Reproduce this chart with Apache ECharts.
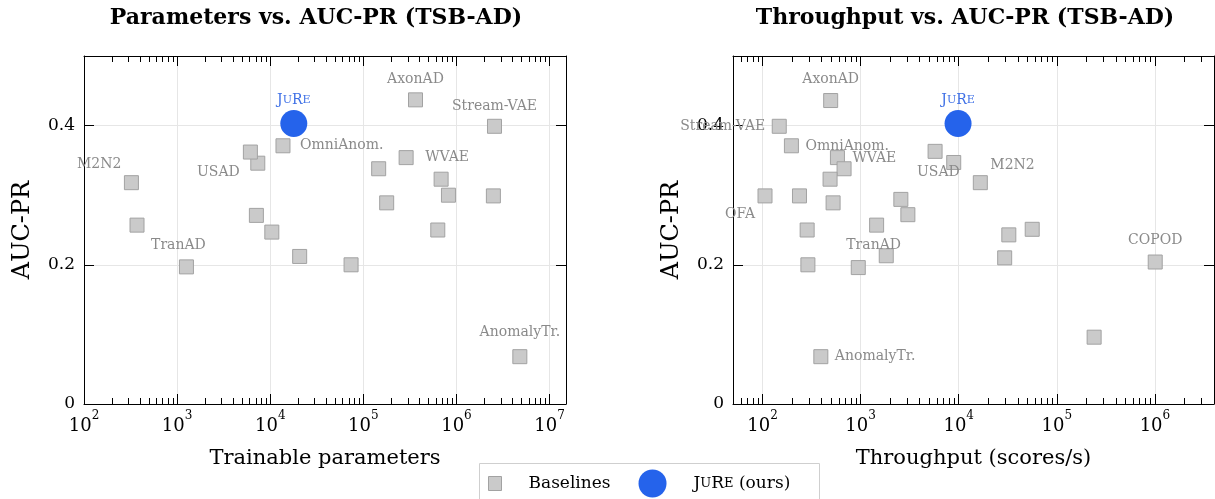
<!DOCTYPE html>
<html><head><meta charset="utf-8">
<script src="https://cdn.jsdelivr.net/npm/echarts@6/dist/echarts.min.js"></script>
<style>html,body{margin:0;padding:0;background:#fff}#c{width:1215px;height:499px}</style>
</head><body><div id="c"></div>
<script>
// ---------- Data: left panel (trainable parameters vs AUC-PR) ----------
const paramNames = ['M2N2', '', 'USAD', '', 'OmniAnom.', '', '', 'TranAD', '', 'AxonAD',
  'Stream-VAE', 'WVAE', '', '', '', '', '', '', '', 'AnomalyTr.'];
const paramCounts = [323, 371, 7350, 6120, 13700, 7100, 10400, 1259, 20700, 363000,
  2560000, 288000, 146000, 684000, 820000, 2490000, 178000, 630000, 73800, 4790000];
const paramAUC = [0.318, 0.257, 0.346, 0.362, 0.371, 0.271, 0.247, 0.197, 0.212, 0.437,
  0.399, 0.354, 0.338, 0.323, 0.300, 0.299, 0.289, 0.250, 0.200, 0.068];
const jureParams = [17900];
const jureParamAUC = [0.403];

// ---------- Data: right panel (throughput vs AUC-PR) ----------
const tputNames = ['AxonAD', 'Stream-VAE', 'OmniAnom.', 'WVAE', '', '', 'OFA', '', '', '',
  '', '', '', '', 'USAD', 'M2N2', '', '', '', 'TranAD', '', 'AnomalyTr.', '', 'COPOD', ''];
const tputValues = [495, 148, 197, 580, 678, 488, 106, 238, 524, 285,
  2570, 3030, 1455, 5740, 8890, 16600, 32400, 56100, 290, 946, 1825, 393, 29400, 1007000, 240000];
const tputAUC = [0.436, 0.399, 0.371, 0.354, 0.338, 0.323, 0.299, 0.299, 0.289, 0.250,
  0.294, 0.272, 0.257, 0.363, 0.347, 0.318, 0.243, 0.251, 0.200, 0.196, 0.213, 0.068, 0.210, 0.204, 0.096];
const jureTput = [9840];
const jureTputAUC = [0.403];

// ---------- Axis tick values ----------
const leftMajor = [1e2, 1e3, 1e4, 1e5, 1e6, 1e7];
const rightMajor = [1e2, 1e3, 1e4, 1e5, 1e6];
const leftRange = [100, 1.5e7];
const rightRange = [50, 4e6];
const yTicks = [0, 0.2, 0.4];

// ---------- Label placement (style) : [align, dx, dy] ----------
const labelPlaceLeft = {
  'M2N2': ['right', -10, -18], 'USAD': ['right', -18, 9], 'TranAD': ['center', -8, -22],
  'OmniAnom.': ['left', 17, 0], 'AxonAD': ['center', 0, -20], 'Stream-VAE': ['center', 0, -20],
  'WVAE': ['left', 19, 0], 'AnomalyTr.': ['center', 0, -24]
};
const labelPlaceRight = {
  'AxonAD': ['center', 0, -21], 'Stream-VAE': ['right', -14, 0], 'OmniAnom.': ['left', 14, 1],
  'WVAE': ['left', 15, 1], 'USAD': ['right', 6, 10], 'M2N2': ['left', 10, -17],
  'OFA': ['right', -10, 18], 'TranAD': ['left', -12, -22], 'AnomalyTr.': ['left', 14, 0],
  'COPOD': ['center', 0, -22]
};

const FONT = 'DejaVu Serif';
const GRID_COLOR = '#e6e6e6';
const BASE_STYLE = {color: '#cacaca', borderColor: '#a2a2a2', borderWidth: 1, opacity: 1};
const JURE_COLOR = '#2563eb';

function minorTicks(range) {
  const out = [];
  for (let e = Math.floor(Math.log10(range[0])); e <= Math.ceil(Math.log10(range[1])); e++) {
    for (let k = 2; k <= 9; k++) {
      const v = k * Math.pow(10, e);
      if (v > range[0] && v < range[1]) out.push(v);
    }
  }
  return out;
}

function baselineData(xs, ys, names, place) {
  return xs.map((x, i) => {
    const item = {name: names[i], value: [x, ys[i]]};
    const p = place[names[i]];
    if (p) item.label = {show: true, align: p[0], offset: [p[1], p[2]]};
    return item;
  });
}
function jureData(xs, ys) {
  return xs.map((x, i) => ({name: 'JuRe', value: [x, ys[i]]}));
}

const supRich = {
  b: {fontFamily: FONT, fontSize: 18, color: '#000', lineHeight: 25, verticalAlign: 'bottom'},
  s: {fontFamily: FONT, fontSize: 12, color: '#000', verticalAlign: 'top'}
};
const scRich = (size, color) => ({
  a: {fontFamily: FONT, fontSize: size, color: color},
  c: {fontFamily: FONT, fontSize: Math.round(size * 0.78), color: color}
});

function xAxes(gi, range, majors, name) {
  const minors = minorTicks(range);
  const common = {gridIndex: gi, type: 'log', logBase: 10, min: range[0], max: range[1],
    axisLine: {show: false}, axisTick: {show: false}, axisLabel: {show: false}, splitLine: {show: false}};
  const line = {show: true, lineStyle: {color: '#000', width: 1}};
  return [
    Object.assign({}, common, {
      position: 'bottom', axisLine: line,
      axisTick: {show: true, inside: true, length: 10, customValues: majors, lineStyle: {color: '#000'}},
      axisLabel: {show: true, customValues: majors, margin: 6,
        formatter: v => '{b|10}{s|' + Math.round(Math.log10(v)) + '}', rich: supRich},
      splitLine: {show: true, lineStyle: {color: GRID_COLOR, width: 1}},
      name: name, nameLocation: 'middle', nameGap: 44,
      nameTextStyle: {fontFamily: FONT, fontSize: 21, color: '#000'}
    }),
    Object.assign({}, common, {position: 'bottom',
      axisTick: {show: true, inside: true, length: 6, customValues: minors, lineStyle: {color: '#000'}}}),
    Object.assign({}, common, {position: 'top', axisLine: line,
      axisTick: {show: true, inside: true, length: 10, customValues: majors, lineStyle: {color: '#000'}}}),
    Object.assign({}, common, {position: 'top',
      axisTick: {show: true, inside: true, length: 6, customValues: minors, lineStyle: {color: '#000'}}})
  ];
}
function yAxes(gi) {
  const line = {show: true, lineStyle: {color: '#000', width: 1}};
  return [
    {gridIndex: gi, type: 'value', position: 'left', min: 0, max: 0.5, interval: 0.2,
      axisLine: line, axisTick: {show: true, inside: true, length: 10, lineStyle: {color: '#000'}},
      axisLabel: {showMaxLabel: false, margin: 9, color: '#000', fontFamily: FONT, fontSize: 17,
        formatter: v => (yTicks.indexOf(Math.round(v * 10) / 10) >= 0 ? String(Math.round(v * 10) / 10) : '')},
      splitLine: {show: true, lineStyle: {color: GRID_COLOR, width: 1}},
      name: 'AUC-PR', nameLocation: 'middle', nameGap: 49,
      nameTextStyle: {fontFamily: FONT, fontSize: 24, color: '#000'}},
    {gridIndex: gi, type: 'value', position: 'right', min: 0, max: 0.5, interval: 0.2,
      axisLine: line, axisTick: {show: true, inside: true, length: 10, lineStyle: {color: '#000'}},
      axisLabel: {show: false}, splitLine: {show: false}}
  ];
}

const baseLabel = {show: false, position: ['50%', '50%'], verticalAlign: 'middle', formatter: '{b}',
  color: '#8a8a8a', fontFamily: FONT, fontSize: 14};
const jureLabel = {show: true, position: ['50%', '50%'], align: 'center', verticalAlign: 'middle',
  offset: [0, -23], formatter: '{a|J}{c|U}{a|R}{c|E}', rich: scRich(14, '#3d6fe6')};

const option = {
  backgroundColor: '#fff',
  animation: false,
  title: [
    {text: 'Parameters vs. AUC-PR (TSB-AD)', left: 316, top: 7, textAlign: 'center', padding: 0,
      textStyle: {fontFamily: FONT, fontWeight: 'bold', fontSize: 22, color: '#000'}},
    {text: 'Throughput vs. AUC-PR (TSB-AD)', left: 965, top: 7, textAlign: 'center', padding: 0,
      textStyle: {fontFamily: FONT, fontWeight: 'bold', fontSize: 22, color: '#000'}}
  ],
  grid: [
    {left: 84, top: 56, width: 482, height: 348},
    {left: 733, top: 56, width: 481, height: 348}
  ],
  xAxis: xAxes(0, leftRange, leftMajor, 'Trainable parameters')
    .concat(xAxes(1, rightRange, rightMajor, 'Throughput (scores/s)')),
  yAxis: yAxes(0).concat(yAxes(1)),
  legend: {
    data: [
      {name: 'Baselines', icon: 'path://M0,0M28,28M15,7h13v14h-13z', itemStyle: BASE_STYLE},
      {name: 'JuRe (ours)', icon: 'circle', itemStyle: {color: JURE_COLOR, borderWidth: 0, opacity: 1}}
    ],
    left: 473, top: 469, itemWidth: 28, itemHeight: 28, itemGap: 28, padding: 0,
    selectedMode: false,
    formatter: n => n === 'JuRe (ours)' ? '{a|J}{c|U}{a|R}{c|E}{a| (ours)}' : n,
    textStyle: {fontFamily: FONT, fontSize: 17, color: '#000', padding: [0, 0, 0, 22], rich: scRich(17, '#000')}
  },
  graphic: [{type: 'rect', shape: {x: 479.5, y: 463.5, width: 340, height: 50},
    style: {fill: 'none', stroke: '#cfcfcf', lineWidth: 1}, z: 100}],
  series: [
    {name: 'Baselines', type: 'scatter', xAxisIndex: 0, yAxisIndex: 0, symbol: 'rect', symbolSize: 14,
      itemStyle: BASE_STYLE, label: baseLabel,
      data: baselineData(paramCounts, paramAUC, paramNames, labelPlaceLeft)},
    {name: 'JuRe (ours)', type: 'scatter', xAxisIndex: 0, yAxisIndex: 0, symbol: 'circle', symbolSize: 27,
      itemStyle: {color: JURE_COLOR, opacity: 1}, label: jureLabel, data: jureData(jureParams, jureParamAUC)},
    {name: 'Baselines', type: 'scatter', xAxisIndex: 4, yAxisIndex: 2, symbol: 'rect', symbolSize: 14,
      itemStyle: BASE_STYLE, label: baseLabel,
      data: baselineData(tputValues, tputAUC, tputNames, labelPlaceRight)},
    {name: 'JuRe (ours)', type: 'scatter', xAxisIndex: 4, yAxisIndex: 2, symbol: 'circle', symbolSize: 27,
      itemStyle: {color: JURE_COLOR, opacity: 1}, label: jureLabel, data: jureData(jureTput, jureTputAUC)}
  ]
};
const chart = echarts.init(document.getElementById('c'), null, {renderer: 'canvas'});
chart.setOption(option);
</script></body></html>
